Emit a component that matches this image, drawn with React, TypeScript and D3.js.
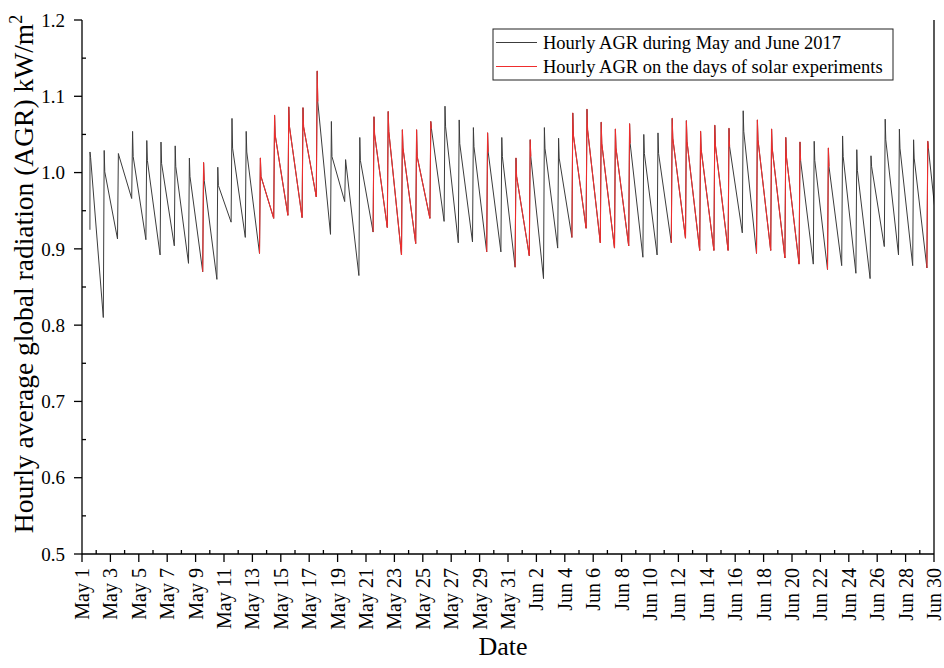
import React from "react";
import * as d3 from "d3";

// daily sawtooth of hourly AGR (kW/m2): peak, the value one hour later, and the low at day end
const dayLabels = d3.range(60).map((i) => new Date(Date.UTC(2017, 4, 1 + i)));
const firstValue = 0.925;
const peakValues = [
  1.027, 1.029, 1.025, 1.054, 1.042, 1.04, 1.035, 1.019, 1.013, 1.007,
  1.071, 1.054, 1.019, 1.075, 1.086, 1.085, 1.133, 1.067, 1.017, 1.046,
  1.073, 1.08, 1.056, 1.056, 1.067, 1.087, 1.069, 1.059, 1.052, 1.046,
  1.019, 1.043, 1.059, 1.045, 1.078, 1.083, 1.066, 1.057, 1.064, 1.05,
  1.052, 1.071, 1.068, 1.054, 1.062, 1.058, 1.081, 1.069, 1.057, 1.046,
  1.04, 1.041, 1.032, 1.048, 1.03, 1.022, 1.07, 1.057, 1.043, 1.041,
];
const kinkValues = [
  1.02, 1.001, 1.022, 1.021, 1.016, 1.012, 1.008, 0.995, 0.99, 0.983,
  1.032, 1.027, 0.995, 1.049, 1.061, 1.06, 1.093, 1.021, 1.01, 1.016,
  1.05, 1.054, 1.032, 1.021, 1.058, 1.06, 1.038, 1.034, 1.027, 1.021,
  0.995, 1.021, 1.032, 1.019, 1.049, 1.056, 1.038, 1.032, 1.038, 1.025,
  1.025, 1.045, 1.041, 1.03, 1.036, 1.034, 1.054, 1.043, 1.032, 1.021,
  1.016, 1.016, 1.008, 1.021, 1.003, 1.008, 1.043, 1.032, 1.019, 1.032,
];
const lowValues = [
  0.81, 0.913, 0.966, 0.912, 0.892, 0.904, 0.881, 0.87, 0.86, 0.935,
  0.915, 0.894, 0.94, 0.944, 0.941, 0.968, 0.919, 0.962, 0.865, 0.922,
  0.928, 0.892, 0.907, 0.94, 0.936, 0.908, 0.909, 0.896, 0.896, 0.876,
  0.891, 0.861, 0.901, 0.915, 0.927, 0.908, 0.901, 0.904, 0.889, 0.892,
  0.908, 0.914, 0.898, 0.898, 0.898, 0.921, 0.894, 0.898, 0.888, 0.88,
  0.88, 0.873, 0.878, 0.868, 0.861, 0.903, 0.892, 0.878, 0.875, 0.875,
];
// days of solar experiments (whole day red, or only the morning rise)
const expDaysFull = [12, 13, 14, 15, 20, 21, 22, 23, 30, 34, 35, 36, 37, 41, 42, 43, 44, 47, 48, 49];
const expDaysRise = [8, 16, 24, 28, 31, 38, 45, 50, 52, 59];

const legendLabels = [
  "Hourly AGR during May and June 2017",
  "Hourly AGR on the days of solar experiments",
];

const width = 944;
const height = 668;
const margin = { top: 20, right: 10, bottom: 114, left: 82 };
const grayColor = "#3c3c3c";
const redColor = "#ef2d2d";
const serif = "'Liberation Serif', 'Times New Roman', serif";
const HOUR = 3600 * 1000;

type Pt = [Date, number];

function App() {
  const x = d3
    .scaleUtc()
    .domain([new Date(Date.UTC(2017, 4, 1)), new Date(Date.UTC(2017, 5, 30))])
    .range([margin.left, width - margin.right]);
  const y = d3
    .scaleLinear()
    .domain([0.5, 1.2])
    .range([height - margin.bottom, margin.top]);

  const peakAt = (i: number): Pt => [new Date(+dayLabels[i] + 13.5 * HOUR), peakValues[i]];
  const kinkAt = (i: number): Pt => [new Date(+dayLabels[i] + 14.5 * HOUR), kinkValues[i]];
  const lowAt = (i: number): Pt => [new Date(+dayLabels[i] + 36 * HOUR), lowValues[i]];

  const grayPts: Pt[] = [[new Date(+dayLabels[0] + 13.4 * HOUR), firstValue]];
  dayLabels.forEach((_, i) => {
    grayPts.push(peakAt(i), kinkAt(i), lowAt(i));
  });

  const redPaths: Pt[][] = [];
  expDaysFull.forEach((i) => redPaths.push([lowAt(i - 1), peakAt(i), kinkAt(i), lowAt(i)]));
  expDaysRise.forEach((i) => redPaths.push([lowAt(i - 1), peakAt(i), kinkAt(i)]));

  const line = d3
    .line<Pt>()
    .x((d) => x(d[0]))
    .y((d) => y(d[1]));

  const x0 = margin.left;
  const x1 = width - margin.right;
  const y0 = height - margin.bottom;
  const y1 = margin.top;

  const yMajor = d3.range(5, 13).map((v) => v / 10);
  const yMinor = d3.range(5, 12).map((v) => v / 10 + 0.05);
  const xMajor = d3.range(0, 61, 2).map((i) => new Date(Date.UTC(2017, 4, 1 + i)));
  const xMinor = d3.range(1, 60, 2).map((i) => new Date(Date.UTC(2017, 4, 1 + i)));
  const fmt = d3.utcFormat("%b %-d");

  return (
    <svg
      width={width}
      height={height}
      style={{ position: "absolute", left: 0, top: 0, background: "#fff" }}
      fontFamily={serif}
    >
      <defs>
        <clipPath id="plotClip">
          <rect x={x0} y={y1 - 5} width={x1 - x0} height={y0 - y1 + 10} />
        </clipPath>
      </defs>

      <g clipPath="url(#plotClip)" fill="none" strokeLinejoin="round">
        <path d={line(grayPts) || ""} stroke={grayColor} strokeWidth={1} />
        {redPaths.map((p, k) => (
          <path key={k} d={line(p) || ""} stroke={redColor} strokeWidth={1.1} />
        ))}
      </g>

      {/* axes */}
      <g stroke="#000" strokeWidth={1.3}>
        <line x1={x0} x2={x0} y1={y1} y2={y0} />
        <line x1={x0} x2={x1} y1={y0} y2={y0} />
        <line x1={x1} x2={x1} y1={y1} y2={y0} />
        {yMajor.map((v) => (
          <line key={"ym" + v} x1={x0 - 8} x2={x0} y1={y(v)} y2={y(v)} />
        ))}
        {yMinor.map((v) => (
          <line key={"yn" + v} x1={x0} x2={x0 + 4} y1={y(v)} y2={y(v)} />
        ))}
        {xMajor.map((d) => (
          <line key={"xm" + +d} x1={x(d)} x2={x(d)} y1={y0} y2={y0 + 8} />
        ))}
        {xMinor.map((d) => (
          <line key={"xn" + +d} x1={x(d)} x2={x(d)} y1={y0} y2={y0 - 4} />
        ))}
      </g>

      <g fontSize={19} textAnchor="end" fill="#000" fontFamily={serif}>
        {yMajor.map((v) => (
          <text key={"yl" + v} x={x0 - 17} y={y(v)} dy="0.35em">
            {d3.format(".1f")(v)}
          </text>
        ))}
      </g>
      <g fontSize={20} textAnchor="end" fill="#000" fontFamily={serif}>
        {xMajor.map((d) => (
          <text
            key={"xl" + +d}
            transform={`translate(${x(d)},${y0 + 14}) rotate(-90)`}
            dy="0.35em"
          >
            {fmt(d)}
          </text>
        ))}
      </g>

      <text x={503} y={655} fontSize={26} textAnchor="middle" fill="#000" fontFamily={serif}>
        Date
      </text>
      <text
        transform={`translate(33,274) rotate(-90)`}
        fontSize={27.5}
        textAnchor="middle"
        fill="#000"
        fontFamily={serif}
      >
        Hourly average global radiation (AGR) kW/m
        <tspan dy={-11} fontSize={18}>
          2
        </tspan>
      </text>

      {/* legend */}
      <g fontFamily={serif}>
        <rect x={493} y={29} width={400} height={51} fill="#fff" stroke="#222" strokeWidth={1} />
        {legendLabels.map((t, i) => (
          <g key={t}>
            <line
              x1={496}
              x2={537}
              y1={42.5 + i * 24}
              y2={42.5 + i * 24}
              stroke={i === 0 ? grayColor : redColor}
              strokeWidth={1}
            />
            <text x={543} y={48.5 + i * 24} fontSize={18.5} fill="#000">
              {t}
            </text>
          </g>
        ))}
      </g>
    </svg>
  );
}

export default App;
